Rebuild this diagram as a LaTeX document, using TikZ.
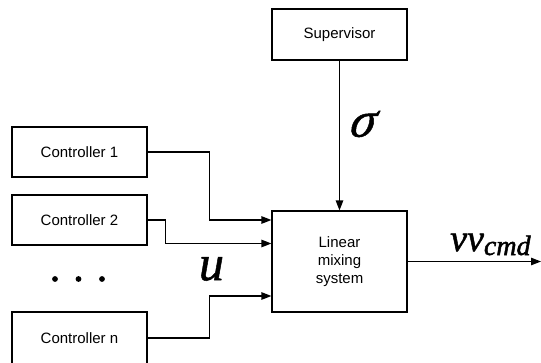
\documentclass[tikz,border=0pt]{standalone}
\usepackage{fontspec}
\setmainfont{Liberation Sans}
\newfontfamily\symfont{Liberation Serif}
\usetikzlibrary{arrows.meta}
% signal names: serif italic, outlines stroked as well for a heavier look
\newcommand\heavy[1]{\special{pdf:literal direct 2 Tr 0.5 w}#1\special{pdf:literal direct 0 Tr}}
\tikzset{
  block/.style={draw, line width=1.2pt, minimum width=135pt, inner sep=0pt,
    font=\fontsize{15}{18}\selectfont, align=center},
  link/.style={line width=1.2pt, -{Triangle[length=10pt,width=7.5pt]}},
  symb/.style={inner sep=0pt, font=\symfont\itshape\fontsize{50}{50}\selectfont},
  dot/.style={fill=black, draw=none}
}
\begin{document}
\begin{tikzpicture}[x=1pt,y=-1pt]
\useasboundingbox (0,0) rectangle (541,362);
% blocks
\node[block, minimum height=51pt] (sup) at (339.5,34.5) {Supervisor};
\node[block, minimum height=101pt] (lin) at (339.5,261.5) {Linear\\mixing\\system};
\node[block, minimum height=50pt] (c1) at (79.5,152) {Controller 1};
\node[block, minimum height=50pt] (c2) at (79.5,220) {Controller 2};
\node[block, minimum height=52pt] (cn) at (79.5,338) {Controller n};
% ellipsis between controllers
\fill[dot] (55,279) circle (2.9pt);
\fill[dot] (78.5,279) circle (2.9pt);
\fill[dot] (102,279) circle (2.9pt);
% controller outputs into the mixer
\draw[link] (c1.east) -- ++(62,0) |- ([yshift=41.5pt]lin.west);
\draw[link] (c2.east) -- ++(18,0) |- ([yshift=18pt]lin.west);
\draw[link] (cn.east) -- ++(62,0) |- ([yshift=-34.5pt]lin.west);
% supervisor switching signal
\draw[link] (sup.south) -- (lin.north);
% mixer output
\coordinate (out) at (541,261.5);
\draw[link] (lin.east) -- (out);
% signal labels (sigma given an extra italic lean)
\begin{scope}[shift={(363.5,124)}, xslant=0.22]
  \node[symb, transform shape] (sigma) at (0,0) {\heavy{σ}};
\end{scope}
\node[symb] (u) at (211.5,269) {\heavy{u}};
\node[symb, anchor=base west, font=\symfont\itshape\fontsize{38}{38}\selectfont] (v) at (450,251) {\heavy{vv\raisebox{-4pt}{\fontsize{28}{28}\selectfont cmd}}};
\end{tikzpicture}
\end{document}
